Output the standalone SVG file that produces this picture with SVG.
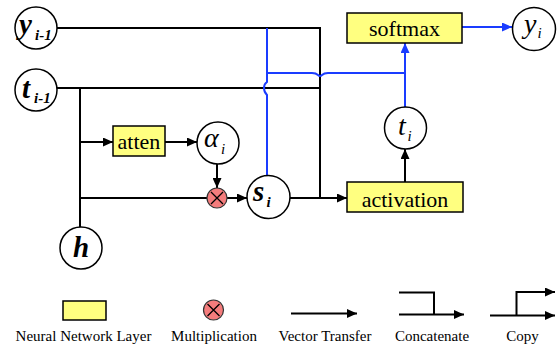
<svg xmlns="http://www.w3.org/2000/svg" width="560" height="347" viewBox="0 0 560 347" font-family="Liberation Serif, Times New Roman, DejaVu Serif, serif">
<style>
.node{fill:#fff;stroke:#000;stroke-width:1.5}
.layer{fill:#ffff80;stroke:#000;stroke-width:1.5}
.mult{fill:#f47c7c;stroke:#333;stroke-width:1.2}
.k{fill:none;stroke:#000;stroke-width:2}
.b{fill:none;stroke:#1a3cff;stroke-width:2}
.lbl{font-size:22px;text-anchor:middle}
.var{font-style:italic;font-weight:bold;font-size:29px}
.sub{font-style:italic;font-weight:bold;font-size:15px}
.vr{font-style:italic;font-size:28px}
.sr{font-style:italic;font-size:15px}
.leg{font-size:15px;text-anchor:middle}
</style>
<defs>
<marker id="ak" markerUnits="userSpaceOnUse" markerWidth="10" markerHeight="9" viewBox="0 0 10 9" refX="10" refY="4.5" orient="auto"><path d="M0,0 L10,4.5 L0,9 z" fill="#000"/></marker>
<marker id="ab" markerUnits="userSpaceOnUse" markerWidth="10" markerHeight="9" viewBox="0 0 10 9" refX="10" refY="4.5" orient="auto"><path d="M0,0 L10,4.5 L0,9 z" fill="#1a3cff"/></marker>
</defs>
<g id="connectors">
<path class="k" d="M57,28 H320 V198"/>
<path class="k" d="M57,88 H320"/>
<path class="k" d="M80,88 V227"/>
<path class="k" d="M80,142 H113" marker-end="url(#ak)"/>
<path class="k" d="M165,142 H197" marker-end="url(#ak)"/>
<path class="k" d="M217,164 V188" marker-end="url(#ak)"/>
<path class="k" d="M80,198 H207"/>
<path class="k" d="M227,198 H247" marker-end="url(#ak)"/>
<path class="k" d="M290,198 H347" marker-end="url(#ak)"/>
<path class="k" d="M405,182 V149" marker-end="url(#ak)"/>
<path class="b" d="M267,28 V82 Q264,84 264,88 Q264,92 267,95 V175.5"/>
<path class="b" d="M267,73 H312 Q316,73 318,75 Q320,77 322,75 Q324,73 328,73 H405"/>
<path class="b" d="M405,107 V43" marker-end="url(#ab)"/>
<path class="b" d="M462,27 H512" marker-end="url(#ab)"/>
</g>
<g id="y_prev"><circle class="node" cx="36" cy="28" r="21"/><text class="var" x="19" y="34">y</text><text class="sub" x="35" y="40">i-1</text></g>
<g id="t_prev"><circle class="node" cx="36" cy="90" r="21"/><text class="var" x="22" y="98">t</text><text class="sub" x="34" y="103">i-1</text></g>
<g id="h"><circle class="node" cx="81" cy="248" r="21"/><text class="var" x="81" y="257" text-anchor="middle">h</text></g>
<g id="atten"><rect class="layer" x="113" y="126" width="52" height="30"/><text class="lbl" x="139" y="148.5">atten</text></g>
<g id="alpha"><circle class="node" cx="218" cy="143" r="21"/><text class="vr" x="204" y="146.5">α</text><text class="sr" x="221" y="154">i</text></g>
<g id="mult"><circle class="mult" cx="217" cy="198" r="10"/><path d="M211,192 L223,204 M223,192 L211,204" stroke="#000" stroke-width="1.3"/></g>
<g id="s"><circle class="node" cx="268.5" cy="197" r="21.5"/><text class="var" x="253" y="200.5">s</text><text class="sub" x="266.5" y="207">i</text></g>
<g id="activation"><rect class="layer" x="347" y="182" width="116" height="30"/><text class="lbl" x="405" y="206.5">activation</text></g>
<g id="t_i"><circle class="node" cx="405.5" cy="128" r="21"/><text class="vr" x="398" y="135">t</text><text class="sr" x="407.5" y="140.5">i</text></g>
<g id="softmax"><rect class="layer" x="347" y="13" width="115" height="30"/><text class="lbl" x="404.5" y="35.5">softmax</text></g>
<g id="y_i"><circle class="node" cx="534" cy="29" r="21.5"/><text class="vr" x="524" y="33">y</text><text class="sr" x="537.5" y="37.5">i</text></g>
<g id="legend">
<rect class="layer" x="63" y="301" width="43" height="19"/>
<text class="leg" x="83.5" y="341">Neural Network Layer</text>
<circle class="mult" cx="213.5" cy="310" r="10"/><path d="M207.5,304 L219.5,316 M219.5,304 L207.5,316" stroke="#000" stroke-width="1.3"/>
<text class="leg" x="214" y="341">Multiplication</text>
<path class="k" d="M291,313.5 H357" marker-end="url(#ak)"/>
<text class="leg" x="325" y="341">Vector Transfer</text>
<path class="k" d="M399,292.5 H434 V314.5"/><path class="k" d="M399,314.5 H464" marker-end="url(#ak)"/>
<text class="leg" x="432" y="341">Concatenate</text>
<path class="k" d="M490,315.5 H555" marker-end="url(#ak)"/><path class="k" d="M516.5,315.5 V292 H555" marker-end="url(#ak)"/>
<text class="leg" x="522.5" y="341">Copy</text>
</g>
</svg>
